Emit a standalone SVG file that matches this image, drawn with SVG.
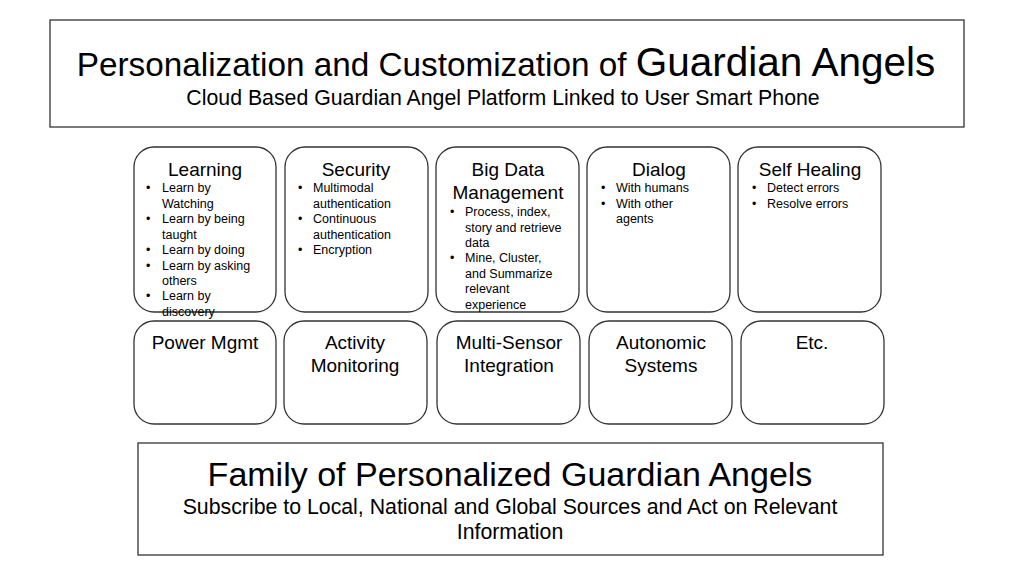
<svg xmlns="http://www.w3.org/2000/svg" width="1024" height="575" viewBox="0 0 1024 575">
<style>
text{font-family:"Liberation Sans",Arial,sans-serif;fill:#000}
.box{fill:#fff;stroke:#333;stroke-width:1.3}
.r{fill:#fff;stroke:#333;stroke-width:1.3}
.h{font-size:19px;text-anchor:middle}
.b{font-size:12.5px}
</style>
<rect width="1024" height="575" fill="#fff"/>
<g id="header">
<rect class="box" x="50" y="20" width="914" height="107"/>
<text x="506" y="76" text-anchor="middle" font-size="33.3">Personalization and Customization of <tspan font-size="40.5">Guardian Angels</tspan></text>
<text x="503" y="105" text-anchor="middle" font-size="21.3">Cloud Based Guardian Angel Platform Linked to User Smart Phone</text>
</g>
<g id="learning">
<rect class="r" x="134" y="147" width="142" height="165" rx="20"/>
<text class="h" x="205" y="176">Learning</text>
<text class="b"><tspan x="146" y="192">•</tspan><tspan x="162" y="192">Learn by</tspan><tspan x="162" y="207.5">Watching</tspan><tspan x="146" y="223">•</tspan><tspan x="162" y="223">Learn by being</tspan><tspan x="162" y="238.5">taught</tspan><tspan x="146" y="254">•</tspan><tspan x="162" y="254">Learn by doing</tspan><tspan x="146" y="269.5">•</tspan><tspan x="162" y="269.5">Learn by asking</tspan><tspan x="162" y="285">others</tspan><tspan x="146" y="300">•</tspan><tspan x="162" y="300">Learn by</tspan><tspan x="162" y="315.5">discovery</tspan></text>
</g>
<g id="security">
<rect class="r" x="285" y="147" width="143" height="165" rx="20"/>
<text class="h" x="356" y="176">Security</text>
<text class="b"><tspan x="298" y="192">•</tspan><tspan x="313" y="192">Multimodal</tspan><tspan x="313" y="207.5">authentication</tspan><tspan x="298" y="223">•</tspan><tspan x="313" y="223">Continuous</tspan><tspan x="313" y="238.5">authentication</tspan><tspan x="298" y="254">•</tspan><tspan x="313" y="254">Encryption</tspan></text>
</g>
<g id="bigdata">
<rect class="r" x="436" y="147" width="143" height="165" rx="20"/>
<text class="h" x="508" y="176">Big Data</text>
<text class="h" x="508" y="199">Management</text>
<text class="b"><tspan x="450" y="216">•</tspan><tspan x="465" y="216">Process, index,</tspan><tspan x="465" y="231.5">story and retrieve</tspan><tspan x="465" y="247">data</tspan><tspan x="450" y="262">•</tspan><tspan x="465" y="262">Mine, Cluster,</tspan><tspan x="465" y="277.5">and Summarize</tspan><tspan x="465" y="293">relevant</tspan><tspan x="465" y="308.5">experience</tspan></text>
</g>
<g id="dialog">
<rect class="r" x="587" y="147" width="143" height="165" rx="20"/>
<text class="h" x="659" y="176">Dialog</text>
<text class="b"><tspan x="601" y="192">•</tspan><tspan x="616" y="192">With humans</tspan><tspan x="601" y="207.5">•</tspan><tspan x="616" y="207.5">With other</tspan><tspan x="616" y="223">agents</tspan></text>
</g>
<g id="selfhealing">
<rect class="r" x="738" y="147" width="143" height="165" rx="20"/>
<text class="h" x="810" y="176">Self Healing</text>
<text class="b"><tspan x="752" y="192">•</tspan><tspan x="767" y="192">Detect errors</tspan><tspan x="752" y="207.5">•</tspan><tspan x="767" y="207.5">Resolve errors</tspan></text>
</g>
<g id="power"><rect class="r" x="134" y="321" width="142" height="103" rx="20"/><text class="h" x="205" y="349">Power Mgmt</text></g>
<g id="activity"><rect class="r" x="284" y="321" width="143" height="103" rx="20"/><text class="h" x="355" y="349">Activity</text><text class="h" x="355" y="372">Monitoring</text></g>
<g id="multisensor"><rect class="r" x="437" y="321" width="143" height="103" rx="20"/><text class="h" x="509" y="349">Multi-Sensor</text><text class="h" x="509" y="372">Integration</text></g>
<g id="autonomic"><rect class="r" x="589" y="321" width="143" height="103" rx="20"/><text class="h" x="661" y="349">Autonomic</text><text class="h" x="661" y="372">Systems</text></g>
<g id="etc"><rect class="r" x="741" y="321" width="143" height="103" rx="20"/><text class="h" x="812" y="349">Etc.</text></g>
<g id="family">
<rect class="box" x="138" y="443" width="745" height="112"/>
<text x="510" y="486" text-anchor="middle" font-size="34">Family of Personalized Guardian Angels</text>
<text x="510" y="514" text-anchor="middle" font-size="21.3">Subscribe to Local, National and Global Sources and Act on Relevant</text>
<text x="510" y="539" text-anchor="middle" font-size="21.3">Information</text>
</g>
<g id="connectors"></g>
</svg>
